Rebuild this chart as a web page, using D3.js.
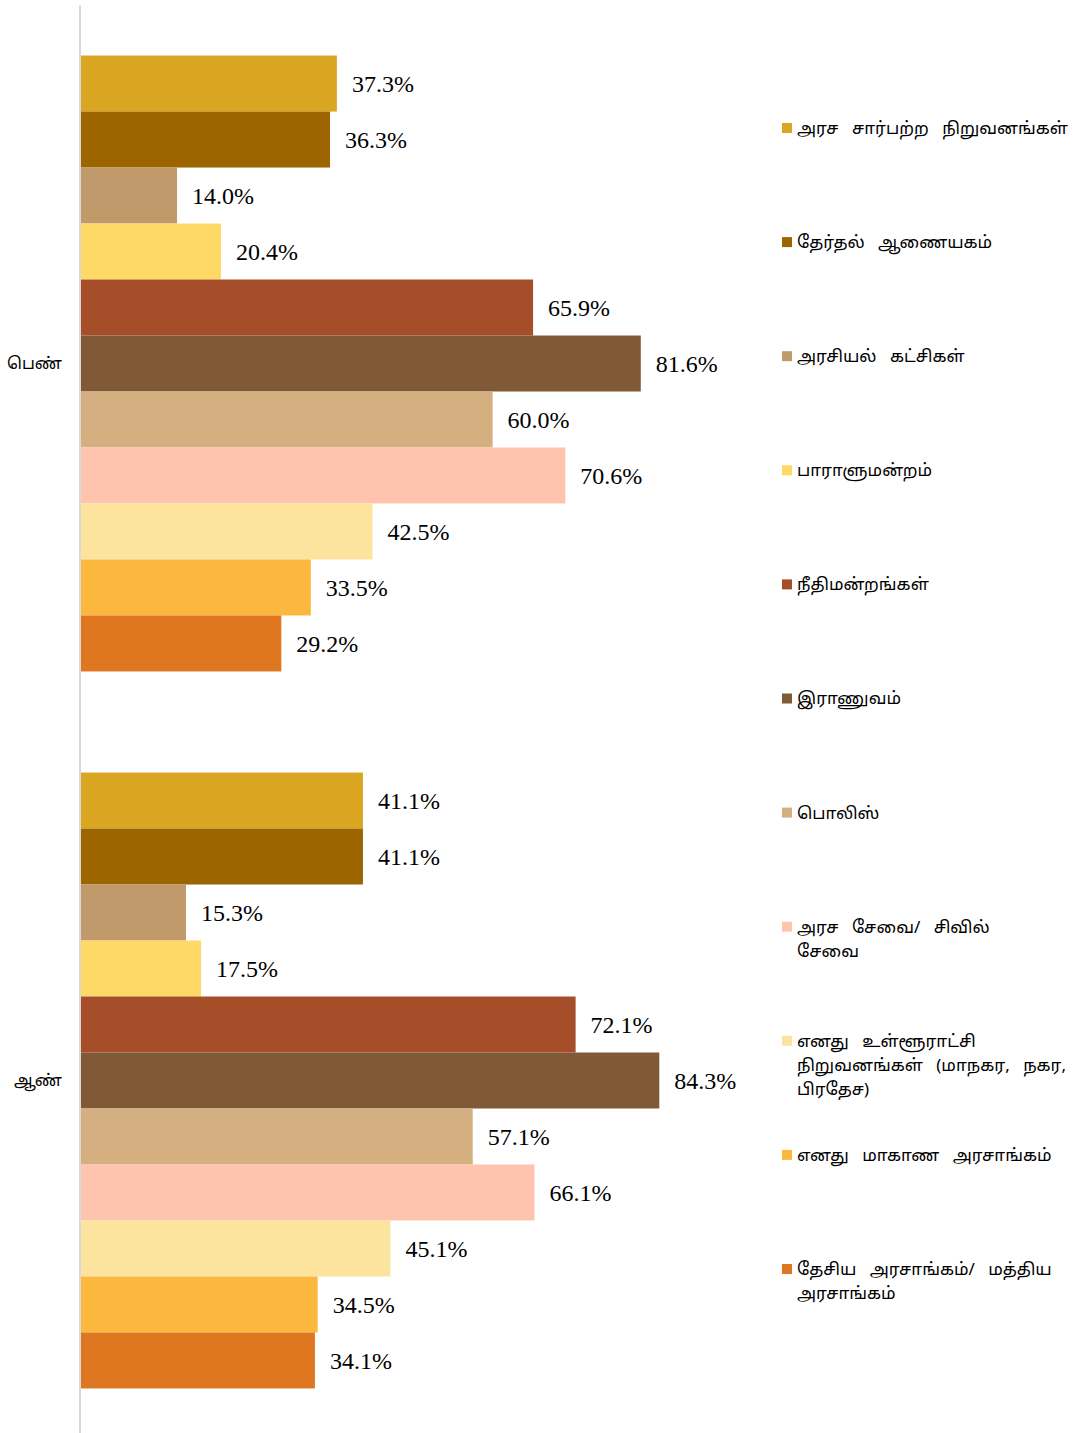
<!DOCTYPE html>
<html>
<head>
<meta charset="utf-8">
<script src="https://cdn.jsdelivr.net/npm/d3@7"></script>
<style>
  html, body { margin: 0; padding: 0; background: #fff; }
  svg { display: block; }
</style>
</head>
<body>
<svg id="chart" width="1074" height="1433"></svg>
<script>
// ---- data ----
const categories = ["பெண்", "ஆண்"];
const seriesNames = [
  "அரச சார்பற்ற நிறுவனங்கள்",
  "தேர்தல் ஆணையகம்",
  "அரசியல் கட்சிகள்",
  "பாராளுமன்றம்",
  "நீதிமன்றங்கள்",
  "இராணுவம்",
  "பொலிஸ்",
  "அரச சேவை/ சிவில் சேவை",
  "எனது உள்ளூராட்சி நிறுவனங்கள் (மாநகர, நகர, பிரதேச)",
  "எனது மாகாண அரசாங்கம்",
  "தேசிய அரசாங்கம்/ மத்திய அரசாங்கம்"
];
const legendLines = [
  ["அரச சார்பற்ற நிறுவனங்கள்"],
  ["தேர்தல் ஆணையகம்"],
  ["அரசியல் கட்சிகள்"],
  ["பாராளுமன்றம்"],
  ["நீதிமன்றங்கள்"],
  ["இராணுவம்"],
  ["பொலிஸ்"],
  ["அரச சேவை/ சிவில்", "சேவை"],
  ["எனது உள்ளூராட்சி", "நிறுவனங்கள் (மாநகர, நகர,", "பிரதேச)"],
  ["எனது மாகாண அரசாங்கம்"],
  ["தேசிய அரசாங்கம்/ மத்திய", "அரசாங்கம்"]
];
const femaleValues = [37.3, 36.3, 14.0, 20.4, 65.9, 81.6, 60.0, 70.6, 42.5, 33.5, 29.2];
const maleValues   = [41.1, 41.1, 15.3, 17.5, 72.1, 84.3, 57.1, 66.1, 45.1, 34.5, 34.1];
const colors = ["#DAA520", "#9C6500", "#C19A6B", "#FED966", "#A64D29", "#805936",
                "#D4AF80", "#FFC4AD", "#FDE49E", "#FCB73E", "#DF7620"];

const values = { "பெண்": femaleValues, "ஆண்": maleValues };

// ---- layout ----
const svg = d3.select("#chart");
const x = d3.scaleLinear().domain([0, 100]).range([81, 767]);
const y0 = d3.scaleBand().domain(categories).range([5, 1439])
  .paddingInner(0.141).paddingOuter(0.0705);
const y1 = d3.scaleBand().domain(d3.range(seriesNames.length)).range([0, y0.bandwidth()]).padding(0);

// axis line (category axis)
const yAxis = d3.axisLeft(y0).tickSize(0).tickPadding(18);
const ag = svg.append("g").attr("transform", "translate(80,0)").call(yAxis);
ag.select(".domain").remove();
ag.append("line").attr("x1", 0).attr("x2", 0).attr("y1", 5).attr("y2", 1433)
  .attr("stroke", "#d9d9d9").attr("stroke-width", 2);
ag.selectAll(".tick text")
  .attr("font-family", "'Noto Sans', 'Noto Sans Tamil', sans-serif")
  .attr("font-size", 16.5).attr("fill", "#000");

// bars
const groups = svg.append("g").selectAll("g").data(categories).join("g")
  .attr("transform", d => `translate(0,${y0(d)})`);

groups.selectAll("rect").data(c => values[c].map((v, i) => ({ v, i })))
  .join("rect")
  .attr("x", x(0))
  .attr("y", d => y1(d.i))
  .attr("width", d => x(d.v) - x(0))
  .attr("height", y1.bandwidth())
  .attr("fill", d => colors[d.i]);

groups.selectAll("text").data(c => values[c].map((v, i) => ({ v, i })))
  .join("text")
  .attr("x", d => x(d.v) + 15)
  .attr("y", d => y1(d.i) + y1.bandwidth() / 2)
  .attr("dy", "0.35em")
  .attr("font-family", "'Liberation Serif', 'Times New Roman', serif")
  .attr("font-size", 24)
  .attr("fill", "#000")
  .text(d => d.v.toFixed(1) + "%");

// legend
const legendY = d3.scaleLinear().domain([0, seriesNames.length - 1]).range([128, 1269]);
const lg = svg.append("g").selectAll("g").data(seriesNames).join("g")
  .attr("transform", (d, i) => `translate(782,${legendY(i)})`);
lg.append("rect").attr("x", 0).attr("y", -5).attr("width", 10).attr("height", 10)
  .attr("fill", (d, i) => colors[i]);
lg.each(function (d, i) {
  const t = d3.select(this).append("text")
    .attr("font-family", "'Noto Sans', 'Noto Sans Tamil', sans-serif")
    .attr("font-size", 17)
    .attr("word-spacing", 9)
    .attr("fill", "#000");
  legendLines[i].forEach((ln, k) => {
    t.append("tspan").attr("x", 15).attr("y", k * 24).attr("dy", "0.35em").text(ln);
  });
});
</script>
</body>
</html>
